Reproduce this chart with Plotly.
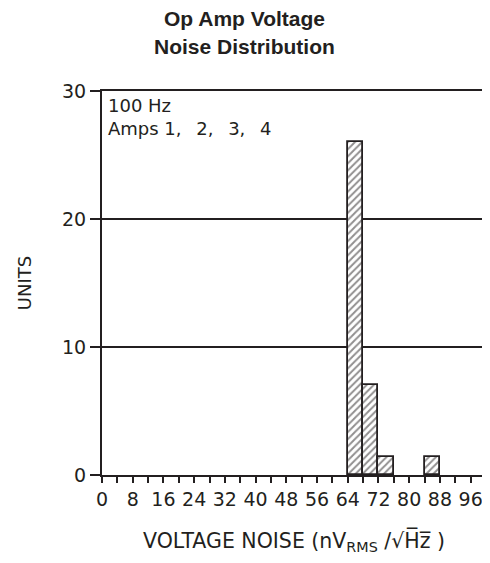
import plotly.graph_objects as go

# histogram bins (nV/rtHz), bin width 4
bin_centers = [66, 70, 74, 86]
units = [26, 7, 1.4, 1.4]

x_tickvals = list(range(0, 97, 4))
x_ticktext = [str(v) if v % 8 == 0 else "" for v in x_tickvals]
y_tickvals = [0, 10, 20, 30]

ink = "#231f20"
face = "DejaVu Sans, Verdana, sans-serif"

fig = go.Figure(go.Bar(
    x=bin_centers, y=units, width=4,
    marker=dict(color="white",
                line=dict(color=ink, width=1.8),
                pattern=dict(shape="/", fgcolor=ink, bgcolor="white", size=5, solidity=0.4)),
))

# page has an 8px body margin, so the figure is a bit smaller than the window
fig.update_layout(
    width=482, height=555,
    margin=dict(l=94, r=2, t=83, b=88),
    paper_bgcolor="white", plot_bgcolor="white",
    showlegend=False, bargap=0,
)

fig.update_xaxes(
    range=[0, 100], tickvals=x_tickvals, ticktext=x_ticktext,
    ticks="outside", ticklen=6, tickwidth=1.5, tickcolor=ink,
    showline=True, linewidth=2, linecolor=ink, mirror=True,
    showgrid=False, zeroline=False,
    tickfont=dict(family=face, size=19, color=ink),
    title=dict(text="VOLTAGE NOISE (nV<sub>RMS</sub> /\u221aH\u0305z\u0305 )",
               font=dict(family=face, size=20.5, color=ink), standoff=25),
)
fig.update_yaxes(
    range=[0, 30], tickvals=y_tickvals,
    ticks="outside", ticklen=10, tickwidth=1.5, tickcolor=ink,
    showline=True, linewidth=2, linecolor=ink, mirror=True,
    showgrid=True, gridcolor=ink, gridwidth=1.5, zeroline=False,
    tickfont=dict(family=face, size=19, color=ink),
    title=dict(text="UNITS", font=dict(family=face, size=18, color=ink), standoff=26),
)

# two-line title centred on the page
for txt, yy in [("Op Amp Voltage", 1.19), ("Noise Distribution", 1.117)]:
    fig.add_annotation(
        text=f"<b>{txt}</b>", showarrow=False,
        xref="paper", yref="paper", x=0.37, y=yy, xanchor="center", yanchor="middle",
        font=dict(family="Liberation Sans, Arial", size=21, color=ink),
    )

fig.add_annotation(
    text="100 Hz<br>Amps 1,\u2002 2,\u2002 3,\u2002 4", showarrow=False,
    xref="paper", yref="paper", x=0.01, y=0.995, xanchor="left", yanchor="top",
    align="left", font=dict(family=face, size=18, color=ink),
)

fig.write_html("out.html")
